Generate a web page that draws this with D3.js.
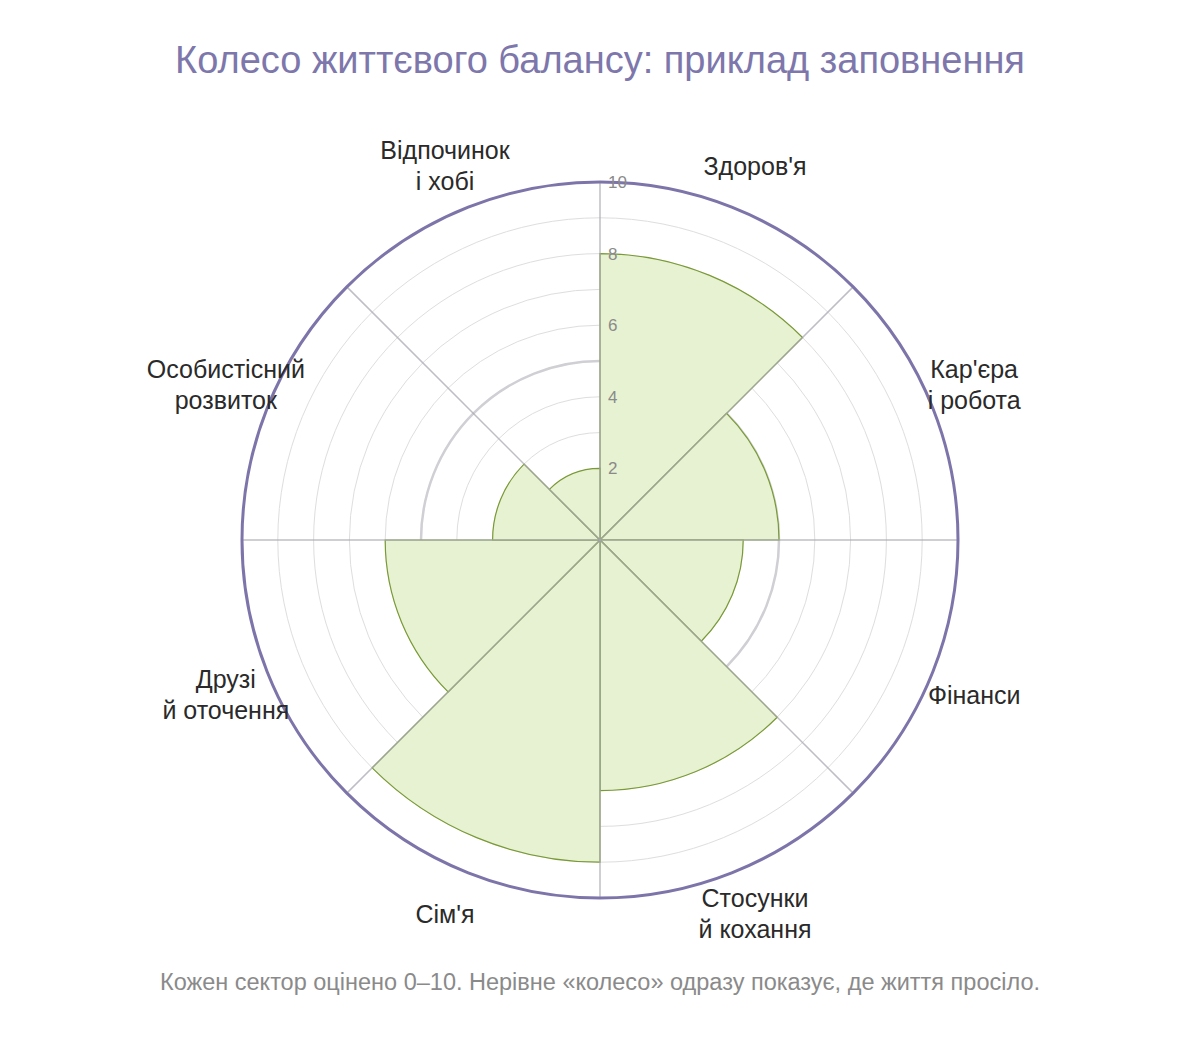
<!DOCTYPE html>
<html>
<head>
<meta charset="utf-8">
<script src="https://cdn.jsdelivr.net/npm/d3@7"></script>
<style>
  body { margin: 0; background: #fff; }
  svg { font-family: "Liberation Sans", Arial, sans-serif; }
</style>
</head>
<body>
<svg id="chart" width="1200" height="1040"></svg>
<script>
// Life balance wheel data
const categories = ["Здоров'я", "Кар'єра\nі робота", "Фінанси", "Стосунки\nй кохання",
                    "Сім'я", "Друзі\nй оточення", "Особистісний\nрозвиток", "Відпочинок\nі хобі"];
const scores = [8, 5, 4, 7, 9, 6, 3, 2];
const gridValues = [1, 2, 3, 4, 5, 6, 7, 8, 9, 10];
const tickValues = [2, 4, 6, 8, 10];
const referenceValue = 5;

const width = 1200, height = 1040;
const cx = 600, cy = 540, outerR = 358;

const svg = d3.select("#chart");
const g = svg.append("g").attr("transform", `translate(${cx},${cy})`);

const r = d3.scaleLinear().domain([0, 10]).range([0, outerR]);
const angle = d3.scaleBand().domain(categories).range([0, 2 * Math.PI]).padding(0);

// grid circles
g.selectAll(".grid")
  .data(gridValues)
  .enter().append("circle")
  .attr("r", d => r(d))
  .attr("fill", "none")
  .attr("stroke", "#dedede")
  .attr("stroke-width", 1);

// reference circle at 5
g.append("circle")
  .attr("r", r(referenceValue))
  .attr("fill", "none")
  .attr("stroke", "#cfcfd4")
  .attr("stroke-width", 2.5);

// bars
const arc = d3.arc()
  .innerRadius(0)
  .outerRadius(d => r(d.value))
  .startAngle(d => angle(d.cat))
  .endAngle(d => angle(d.cat) + angle.bandwidth());

g.selectAll(".bar")
  .data(categories.map((c, i) => ({ cat: c, value: scores[i] })))
  .enter().append("path")
  .attr("class", "bar")
  .attr("d", arc)
  .attr("fill", "#e7f2d2")
  .attr("stroke", "#7a9a36")
  .attr("stroke-width", 1.2);

// spokes
g.selectAll(".spoke")
  .data(categories)
  .enter().append("line")
  .attr("x1", 0).attr("y1", 0)
  .attr("x2", d => r(10) * Math.sin(angle(d)))
  .attr("y2", d => -r(10) * Math.cos(angle(d)))
  .attr("stroke", "#a8a8b0")
  .attr("stroke-opacity", 0.75)
  .attr("stroke-width", 1.5);

// outer ring
g.append("circle")
  .attr("r", outerR)
  .attr("fill", "none")
  .attr("stroke", "#7d74aa")
  .attr("stroke-width", 3);

// radial tick labels
g.selectAll(".tick")
  .data(tickValues)
  .enter().append("text")
  .attr("x", 8)
  .attr("y", d => -r(d))
  .attr("dy", "0.35em")
  .attr("font-size", 17)
  .attr("fill", "#8a8a8a")
  .text(d => d);

// category labels
const labelR = 405;
const labels = g.selectAll(".cat")
  .data(categories)
  .enter().append("text")
  .attr("text-anchor", "middle")
  .attr("font-size", 25)
  .attr("fill", "#2a2a2a")
  .attr("transform", d => {
    const a = angle(d) + angle.bandwidth() / 2;
    return `translate(${labelR * Math.sin(a)},${-labelR * Math.cos(a)})`;
  });

labels.each(function(d) {
  const lines = d.split("\n");
  const t = d3.select(this);
  lines.forEach((line, i) => {
    t.append("tspan")
      .attr("x", 0)
      .attr("y", (i - (lines.length - 1) / 2) * 31)
      .attr("dy", "0.35em")
      .text(line);
  });
});

// title & note
svg.append("text")
  .attr("x", width / 2).attr("y", 73)
  .attr("text-anchor", "middle")
  .attr("font-size", 38)
  .attr("fill", "#7d77ab")
  .text("Колесо життєвого балансу: приклад заповнення");

svg.append("text")
  .attr("x", width / 2).attr("y", 990)
  .attr("text-anchor", "middle")
  .attr("font-size", 23.5)
  .attr("fill", "#8a8a8a")
  .text("Кожен сектор оцінено 0–10. Нерівне «колесо» одразу показує, де життя просіло.");
</script>
</body>
</html>
